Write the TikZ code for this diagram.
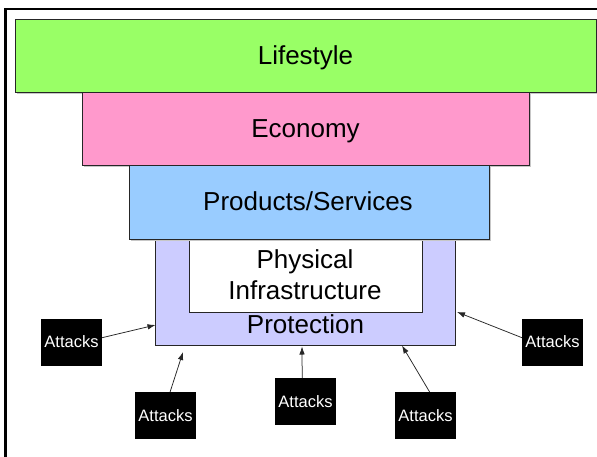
\documentclass[tikz,border=0pt]{standalone}
\usepackage{fontspec}
\setmainfont{Liberation Sans}
\usetikzlibrary{arrows.meta,shadows}
\definecolor{lifegreen}{RGB}{153,255,102}
\definecolor{econpink}{RGB}{255,153,204}
\definecolor{prodblue}{RGB}{153,204,255}
\definecolor{protlav}{RGB}{204,204,255}
\tikzset{
  layer/.style={draw=black!85, line width=0.9pt, inner sep=0pt, outer sep=0pt},
  shad/.style={drop shadow={shadow xshift=1.5pt, shadow yshift=-1.5pt, fill=black!22, opacity=1}},
  bigtext/.style={font=\fontsize{26}{31}\selectfont, inner sep=0pt, anchor=base},
  attackbox/.style={fill=black, draw=none, text=white, minimum width=61pt, minimum height=47pt,
    inner sep=0pt, outer sep=0pt, font=\fontsize{16.5}{18}\selectfont},
  attackarrow/.style={draw=black!85, line width=0.75pt, -{Latex[length=8pt,width=5.5pt]}}
}
\begin{document}
\begin{tikzpicture}[x=1pt,y=-1pt]
\useasboundingbox (0,0) rectangle (597,456);
\fill[white] (0,0) rectangle (597,456);
% frame
\draw[line width=2.6pt] (5.7,457) -- (5.7,9) -- (598,9);
% layers
\node[layer, shad, fill=lifegreen, minimum width=581pt, minimum height=73pt] (life) at (305.5,55.5) {};
\node[layer, shad, fill=econpink, minimum width=447pt, minimum height=73.5pt] (econ) at (305.5,128.75) {};
\node[layer, fill=protlav, minimum width=300pt, minimum height=106.5pt] (prot) at (305.7,292.25) {};
\node[layer, fill=white, minimum width=233.7pt, minimum height=73pt] (phys) at (305.85,275.5) {};
\node[layer, shad, fill=prodblue, minimum width=360.5pt, minimum height=73.5pt] (prod) at (309.25,202.25) {};
% texts
\node[bigtext] (lifetext) at (305.5,64.5) {Lifestyle};
\node[bigtext] (econtext) at (305.5,137.5) {Economy};
\node[bigtext] (prodtext) at (308,210) {Products/Services};
\node[bigtext] (phystext1) at (305,268.3) {Physical};
\node[bigtext] (phystext2) at (305,299.3) {Infrastructure};
\node[bigtext] (prottext) at (305.5,333.3) {Protection};
% attacks
\node[attackbox] (a1) at (71.5,342) {Attacks};
\node[attackbox] (a2) at (165.5,415.5) {Attacks};
\node[attackbox] (a3) at (305.5,401.5) {Attacks};
\node[attackbox] (a4) at (425.5,415.5) {Attacks};
\node[attackbox] (a5) at (552.5,342) {Attacks};
% targets
\coordinate (t1) at (155.5,325);
\coordinate (t2) at (183,352);
\coordinate (t3) at (302,346.5);
\coordinate (t4) at (402,345.5);
\coordinate (t5) at (457,312);
\draw[attackarrow] (a1.8) -- (t1);
\draw[attackarrow] (a2.79) -- (t2);
\draw[attackarrow] (a3.98) -- (t3);
\draw[attackarrow] (a4.80) -- (t4);
\draw[attackarrow] (a5.172) -- (t5);
\end{tikzpicture}
\end{document}
